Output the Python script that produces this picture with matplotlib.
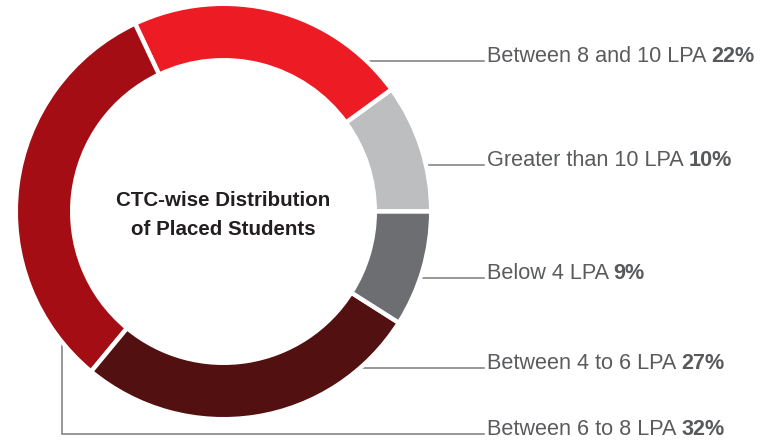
import numpy as np
import matplotlib
matplotlib.use("Agg")
from matplotlib import pyplot as plt

# CTC-wise distribution of placed students (percent), counter-clockwise from 3 o'clock
labels = ["Greater than 10 LPA", "Between 8 and 10 LPA", "Between 6 to 8 LPA",
          "Between 4 to 6 LPA", "Below 4 LPA"]
shares = [10, 22, 32, 27, 9]
colors = ["#BCBEC0", "#ED1C24", "#A30D13", "#531011", "#6D6E71"]

# label rows (pixel y from top), in reading order of the right-hand list
label_rows = {"Between 8 and 10 LPA": 61, "Greater than 10 LPA": 165,
              "Below 4 LPA": 278, "Between 4 to 6 LPA": 368,
              "Between 6 to 8 LPA": 434}

W, H = 778, 440
fig = plt.figure(figsize=(W / 100, H / 100), dpi=100)
ax = fig.add_axes([0, 0, 1, 1])
ax.set_xlim(0, W)
ax.set_ylim(0, H)
ax.axis("off")

cx, cy = 223.5, H - 211.5
r_out, r_in = 205.5, 153.5
edge = 3.2  # points
pad = edge * 100 / 72 / 2

ax.pie(shares, colors=colors, startangle=0, counterclock=True,
       center=(cx, cy), radius=r_out + pad,
       wedgeprops=dict(width=r_out - r_in + 2 * pad, edgecolor="white", linewidth=edge))
ax.set_xlim(0, W)
ax.set_ylim(0, H)
ax.set_aspect("equal")

ax.text(cx, cy + 11, "CTC-wise Distribution", ha="center", va="center",
        fontsize=14.8, fontweight="bold", color="#231F20", family="Liberation Sans")
ax.text(cx, cy - 18, "of Placed Students", ha="center", va="center",
        fontsize=14.8, fontweight="bold", color="#231F20", family="Liberation Sans")

line_c = "#7A7A7A"
x_text = 487
x_end = 484
for name, val in zip(labels, shares):
    y = H - label_rows[name]
    if name == "Between 6 to 8 LPA":
        xv = 62
        ytop = cy - np.sqrt(r_out ** 2 - (xv - cx) ** 2)
        ax.plot([xv, xv, x_end], [ytop - 2, y, y], color=line_c, lw=1.1,
                solid_joinstyle="miter", zorder=0)
    else:
        xs = cx + np.sqrt(r_out ** 2 - (y - cy) ** 2)
        ax.plot([xs - 3, x_end], [y, y], color=line_c, lw=1.1, zorder=0)
    t = ax.text(x_text, y - 1, name + " ", ha="left", va="baseline", fontsize=15.6,
                color="#5A5B5D", family="Liberation Sans")
    ax.annotate(f"{val}%", xy=(1, 0), xycoords=t, ha="left", va="bottom",
                fontsize=15.6, fontweight="bold", color="#58595B", family="Liberation Sans")

fig.savefig("out.png", dpi=100)
